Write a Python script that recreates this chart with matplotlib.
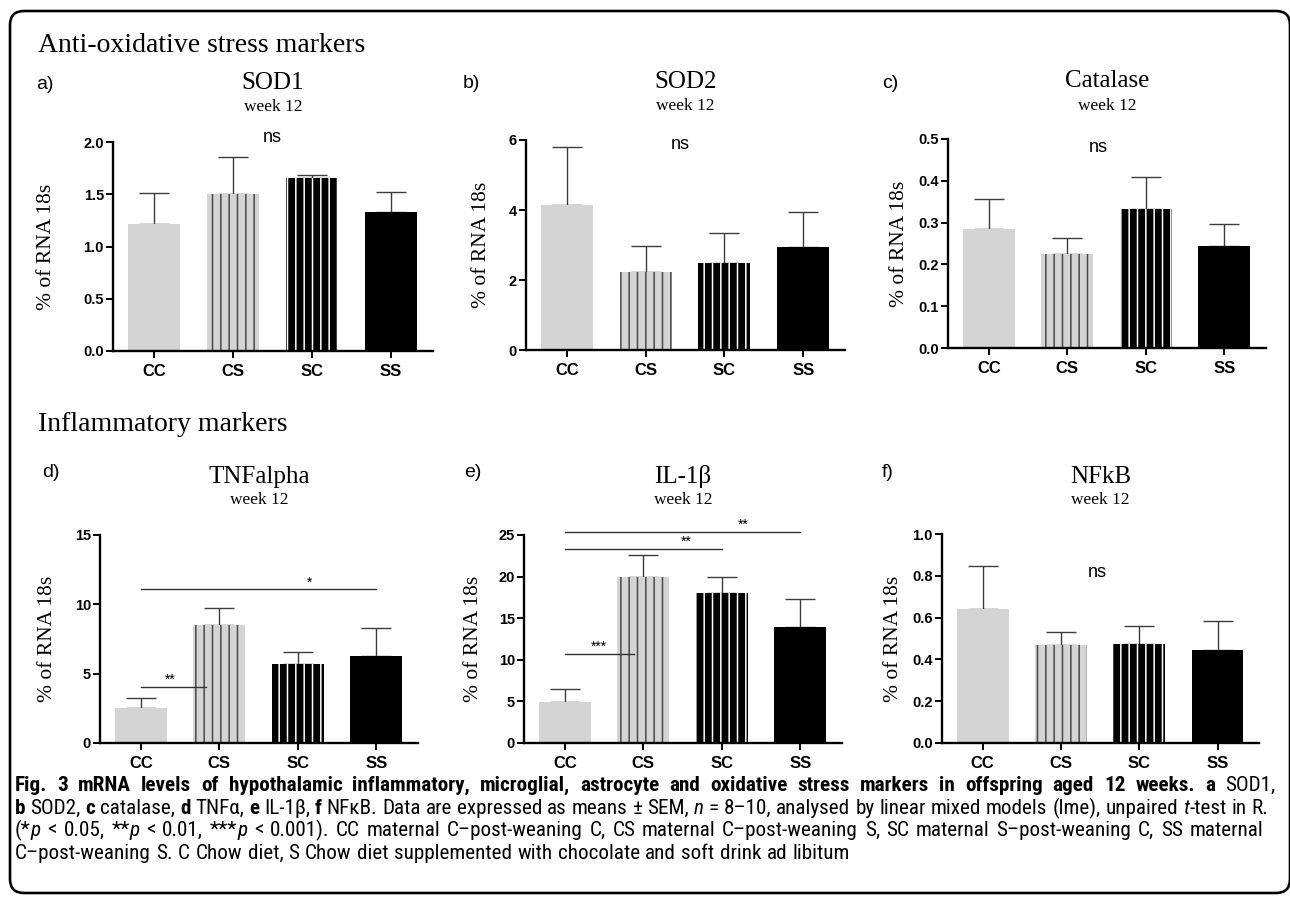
import matplotlib
matplotlib.use("Agg")
import matplotlib.pyplot as plt
import numpy as np
from matplotlib import font_manager
from matplotlib.font_manager import FontProperties
from matplotlib.patches import FancyBboxPatch
from matplotlib.transforms import IdentityTransform

# ---------------- data ----------------
groups = ["CC", "CS", "SC", "SS"]

sod1_mean = [1.22, 1.50, 1.66, 1.33]
sod1_sem = [0.29, 0.36, 0.02, 0.19]

sod2_mean = [4.14, 2.23, 2.49, 2.95]
sod2_sem = [1.65, 0.75, 0.84, 0.98]

cat_mean = [0.285, 0.226, 0.332, 0.244]
cat_sem = [0.072, 0.038, 0.078, 0.053]

tnf_mean = [2.55, 8.50, 5.67, 6.27]
tnf_sem = [0.67, 1.22, 0.91, 2.04]

il1b_mean = [4.9, 20.0, 18.0, 13.9]
il1b_sem = [1.6, 2.6, 2.0, 3.4]

nfkb_mean = [0.640, 0.471, 0.476, 0.447]
nfkb_sem = [0.207, 0.060, 0.084, 0.137]

sod1_ticks = [0.0, 0.5, 1.0, 1.5, 2.0]
sod2_ticks = [0, 2, 4, 6]
cat_ticks = [0.0, 0.1, 0.2, 0.3, 0.4, 0.5]
tnf_ticks = [0, 5, 10, 15]
il1b_ticks = [0, 5, 10, 15, 20, 25]
nfkb_ticks = [0.0, 0.2, 0.4, 0.6, 0.8, 1.0]

# ---------------- figure ----------------
W, H = 1290, 898
fig = plt.figure(figsize=(W / 100, H / 100), dpi=100)
fig.patch.set_facecolor("white")

SERIF = "Liberation Serif"
SANS = "Liberation Sans"

# pick a condensed sans for the caption if one is installed
cap_family, cap_stretch = None, "normal"
cands = {}
for f in font_manager.fontManager.ttflist:
    nm = f.name
    st = str(f.stretch)
    if "Serif" in nm or "Mono" in nm or "CJK" in nm:
        continue
    if "Narrow" in nm or "Condensed" in nm or st in ("condensed", "semi-condensed"):
        cands.setdefault((nm, st), set()).add(str(f.weight))
for pref in ["Liberation Sans Narrow", "Roboto Condensed", "Open Sans Condensed", "Noto Sans",
             "Open Sans", "DejaVu Sans Condensed", "DejaVu Sans"]:
    for (nm, st), wts in cands.items():
        if nm == pref:
            cap_family, cap_stretch = nm, st
            break
    if cap_family:
        break
size_factor = 0.94
if cap_family is None:
    avail = {f.name for f in font_manager.fontManager.ttflist}
    cap_family = next(f for f in ["Lato", "Roboto", "Open Sans", "DejaVu Sans"] if f in avail)
    size_factor = 1.0
CAP_FAM = [cap_family, "DejaVu Sans"]

plt.rcParams["hatch.linewidth"] = 1.1


def ftext(x, y, s, **kw):
    return fig.text(x / W, 1 - y / H, s, **kw)


# frame
frame = FancyBboxPatch((10, H - 893), 1280, 882, boxstyle="round,pad=0,rounding_size=14",
                       transform=IdentityTransform(), facecolor="none", edgecolor="black",
                       linewidth=1.9)
fig.add_artist(frame)

# section headers
ftext(38, 52, "Anti-oxidative stress markers", family=SERIF, fontsize=20, va="baseline")
ftext(38, 431, "Inflammatory markers", family=SERIF, fontsize=20, va="baseline")

face = ["#d4d4d4", "#d4d4d4", "black", "black"]
hatch = [None, "||", "||", None]
hcol = ["#d4d4d4", "#4a4a4a", "white", "black"]


def panel(letter, title, means, sems, ticks, fmt, left, top, bottom, width,
          ylab_off, letter_xy, title_base, week_base):
    ax = fig.add_axes([left / W, 1 - bottom / H, width / W, (bottom - top) / H])
    x = np.arange(len(groups))
    ax.errorbar(x, means, yerr=[np.zeros(len(means)), sems], fmt="none",
                ecolor="#3c3c3c", elinewidth=1.0, capsize=10.8, capthick=1.0, zorder=1)
    bars = ax.bar(x, means, width=0.66, color=face, linewidth=0, zorder=2)
    for b, h, hc in zip(bars, hatch, hcol):
        b.set_edgecolor(hc)
        b.set_linewidth(0)
        if h:
            b.set_hatch(h)
    ax.set_xlim(-0.52, 3.53)
    ax.set_ylim(ticks[0], ticks[-1])
    ax.set_xticks(x)
    ax.set_xticklabels(groups)
    ax.set_yticks(ticks)
    ax.set_yticklabels([fmt % t for t in ticks])
    for s in ["top", "right"]:
        ax.spines[s].set_visible(False)
    for s in ["left", "bottom"]:
        ax.spines[s].set_linewidth(1.7)
    ax.tick_params(axis="y", length=5, width=1.4, pad=1.5, labelsize=10.5)
    ax.tick_params(axis="x", length=5, width=1.4, pad=4.5, labelsize=12)
    for lbl in ax.get_xticklabels() + ax.get_yticklabels():
        lbl.set_fontweight("bold")
        lbl.set_family(SANS)
    ax.set_ylabel("% of RNA 18s", family=SERIF, fontsize=15.5, va="center")
    ax.yaxis.set_label_coords(ylab_off / width, 0.5)
    cx = left + width / 2
    ftext(cx, title_base, title, family=SERIF, fontsize=18, ha="center", va="baseline")
    ftext(cx, week_base, "week 12", family=SERIF, fontsize=12.5, ha="center", va="baseline")
    ftext(letter_xy[0], letter_xy[1], letter, family=SANS, fontsize=14, va="baseline")
    return ax


axa = panel("a)", "SOD1", sod1_mean, sod1_sem, sod1_ticks, "%.1f", 113, 142, 351, 320, -67, (36, 89), 89, 111)
axb = panel("b)", "SOD2", sod2_mean, sod2_sem, sod2_ticks, "%d", 526, 140, 350, 319, -44, (463, 88), 88, 110)
axc = panel("c)", "Catalase", cat_mean, cat_sem, cat_ticks, "%.1f", 948, 139, 348, 318, -48, (882, 88), 87, 110)
axd = panel("d)", "TNFalpha", tnf_mean, tnf_sem, tnf_ticks, "%d", 100, 535, 743, 318, -52, (42, 477), 483, 504)
axe = panel("e)", "IL-1\u03b2", il1b_mean, il1b_sem, il1b_ticks, "%d", 524, 535, 743, 318, -50, (464, 477), 483, 504)
axf = panel("f)", "NFkB", nfkb_mean, nfkb_sem, nfkb_ticks, "%.1f", 942, 534, 743, 317, -49, (882, 477), 483, 504)

# "ns" labels
for xp, yp in [(272, 142), (680, 149), (1098, 152), (1097, 577)]:
    ftext(xp, yp, "ns", family=SANS, fontsize=13, ha="center", va="baseline")


def sig(ax, x0, x1, y, label, xt, off=5):
    ax.plot([x0, x1], [y, y], color="#333333", lw=1.0, clip_on=False, zorder=3)
    ax.annotate(label, (xt, y), xytext=(0, off), textcoords="offset points",
                ha="center", va="center", fontsize=10, family=SANS, annotation_clip=False)


sig(axd, 0, 0.83, 4.06, "**", 0.38)
sig(axd, 0, 3, 11.08, "*", 2.15)
sig(axe, 0, 0.88, 10.7, "***", 0.44)
sig(axe, 0, 2, 23.3, "**", 1.54)
sig(axe, 0, 3, 25.4, "**", 2.27)

# ---------------- caption ----------------
fig.canvas.draw()
r = fig.canvas.get_renderer()


def prop(style, size):
    return FontProperties(family=CAP_FAM, size=size, stretch=cap_stretch,
                          weight="bold" if style == "b" else "normal",
                          style="italic" if style == "i" else "normal")


def tw(s, style, size):
    p = prop(style, size)
    w1 = r.get_text_width_height_descent("|" + s + "|", p, False)[0]
    w0 = r.get_text_width_height_descent("||", p, False)[0]
    return w1 - w0


lines = [
    [("Fig. 3 mRNA levels of hypothalamic inflammatory, microglial, astrocyte and oxidative stress markers in offspring aged 12 weeks. a", "b"),
     (" SOD1,", "n")],
    [("b", "b"), (" SOD2, ", "n"), ("c", "b"), (" catalase, ", "n"), ("d", "b"), (" TNF\u03b1, ", "n"),
     ("e", "b"), (" IL-1\u03b2, ", "n"), ("f", "b"),
     (" NF\u03baB. Data are expressed as means \u00b1 SEM, ", "n"), ("n", "i"),
     (" = 8\u201310, analysed by linear mixed models (lme), unpaired ", "n"), ("t", "i"), ("-test in R.", "n")],
    [("(*", "n"), ("p", "i"), (" < 0.05, **", "n"), ("p", "i"), (" < 0.01, ***", "n"), ("p", "i"),
     (" < 0.001). CC maternal C\u2013post-weaning C, CS maternal C\u2013post-weaning S, SC maternal S\u2013post-weaning C, SS maternal", "n")],
    [("C\u2013post-weaning S. C Chow diet, S Chow diet supplemented with chocolate and soft drink ad libitum", "n")],
]
targets = [1260, 1253, 1248, None]
baselines = [791, 814, 836, 859]
x_start = 15


def words_of(runs):
    words = [[]]
    for txt, st in runs:
        parts = txt.split(" ")
        for i, p in enumerate(parts):
            if i > 0:
                words.append([])
            if p:
                words[-1].append((p, st))
    return [w for w in words if w]


def natural(runs, size):
    ws = words_of(runs)
    tot = sum(tw(s, st, size) for w in ws for s, st in w)
    return tot + (len(ws) - 1) * tw(" ", "n", size)


size = 12.0
nat = natural(lines[0], size)
size = size * (targets[0] * 0.985) / nat * size_factor

for runs, tgt, yb in zip(lines, targets, baselines):
    ws = words_of(runs)
    wsum = [sum(tw(s, st, size) for s, st in w) for w in ws]
    sp = tw(" ", "n", size)
    if tgt is None:
        gap = sp * 1.1
    else:
        gap = max((tgt - sum(wsum)) / (len(ws) - 1), 0.75 * sp)
    x = x_start
    for w, wl in zip(ws, wsum):
        xx = x
        for s, st in w:
            p = prop(st, size)
            ftext(xx, yb, s, fontproperties=p, va="baseline", ha="left")
            xx += tw(s, st, size)
        x += wl + gap

fig.savefig("out.png", dpi=100, facecolor="white")
